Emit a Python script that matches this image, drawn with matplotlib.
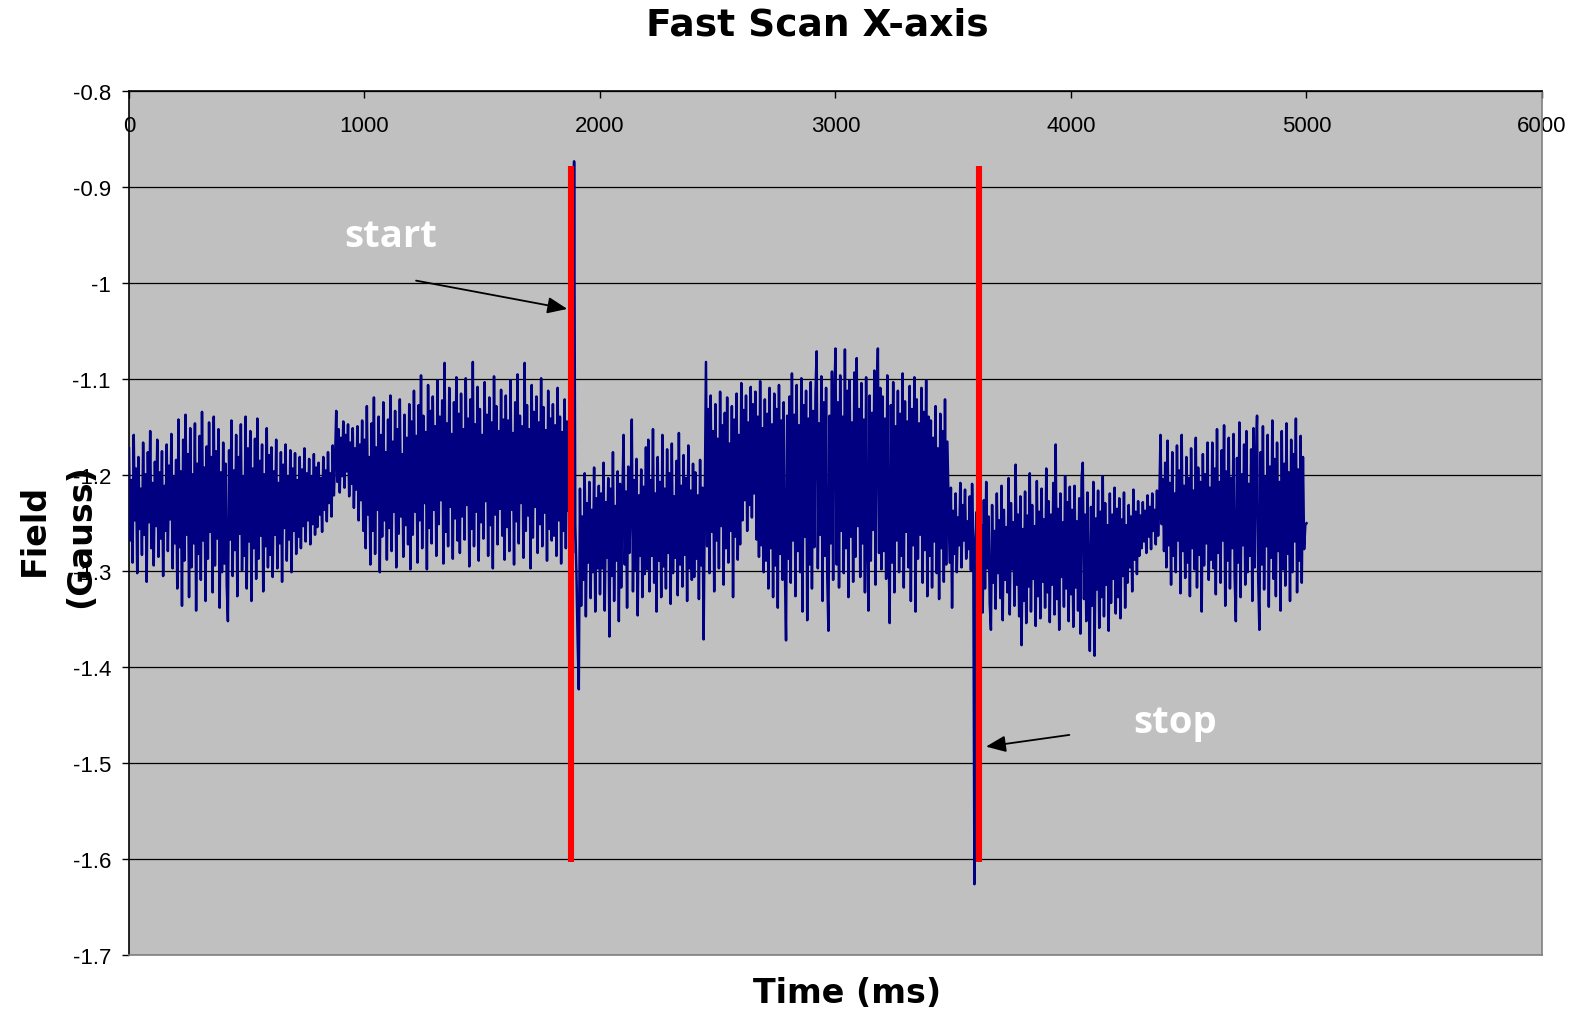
import matplotlib
matplotlib.use('Agg')
import matplotlib.pyplot as plt
from matplotlib.ticker import MultipleLocator, FuncFormatter
import numpy as np

# field samples (Gauss), one every 5 ms, 200 ms per row
sample_step = 5
field_rows = [
    [-1.172, -1.268, -1.205, -1.291, -1.158, -1.247, -1.193, -1.302, -1.181, -1.256, -1.214, -1.283, -1.166, -1.262, -1.199, -1.311, -1.176, -1.249, -1.154, -1.276,
     -1.208, -1.294, -1.186, -1.253, -1.163, -1.285, -1.197, -1.266, -1.175, -1.305, -1.211, -1.258, -1.168, -1.279, -1.190, -1.246, -1.157, -1.297, -1.202, -1.271],
    [-1.184, -1.318, -1.142, -1.275, -1.196, -1.336, -1.163, -1.289, -1.137, -1.262, -1.178, -1.327, -1.151, -1.296, -1.199, -1.271, -1.146, -1.341, -1.188, -1.282,
     -1.159, -1.309, -1.134, -1.268, -1.192, -1.331, -1.170, -1.287, -1.145, -1.259, -1.181, -1.322, -1.139, -1.294, -1.175, -1.266, -1.152, -1.338, -1.197, -1.301],
    [-1.166, -1.292, -1.188, -1.314, -1.352, -1.174, -1.267, -1.143, -1.305, -1.195, -1.278, -1.158, -1.326, -1.181, -1.261, -1.147, -1.299, -1.201, -1.284, -1.139,
     -1.318, -1.172, -1.269, -1.154, -1.331, -1.193, -1.276, -1.162, -1.308, -1.141, -1.287, -1.185, -1.263, -1.168, -1.321, -1.199, -1.274, -1.151, -1.296, -1.179],
    [-1.283, -1.171, -1.306, -1.196, -1.262, -1.163, -1.297, -1.208, -1.271, -1.176, -1.311, -1.189, -1.255, -1.168, -1.289, -1.202, -1.267, -1.174, -1.301, -1.193,
     -1.258, -1.177, -1.282, -1.205, -1.264, -1.181, -1.276, -1.194, -1.253, -1.172, -1.269, -1.198, -1.247, -1.183, -1.272, -1.201, -1.251, -1.178, -1.262, -1.192],
    [-1.254, -1.187, -1.241, -1.203, -1.259, -1.181, -1.236, -1.195, -1.248, -1.176, -1.229, -1.198, -1.243, -1.169, -1.221, -1.184, -1.133, -1.207, -1.152, -1.218,
     -1.161, -1.201, -1.144, -1.213, -1.158, -1.196, -1.147, -1.222, -1.166, -1.209, -1.151, -1.234, -1.172, -1.215, -1.149, -1.247, -1.168, -1.226, -1.143, -1.258],
    [-1.163, -1.276, -1.128, -1.241, -1.181, -1.293, -1.146, -1.258, -1.119, -1.282, -1.171, -1.236, -1.139, -1.301, -1.158, -1.264, -1.124, -1.247, -1.176, -1.288,
     -1.142, -1.255, -1.117, -1.279, -1.165, -1.238, -1.133, -1.296, -1.152, -1.261, -1.121, -1.243, -1.178, -1.285, -1.137, -1.252, -1.161, -1.272, -1.126, -1.298],
    [-1.144, -1.262, -1.112, -1.238, -1.159, -1.291, -1.127, -1.247, -1.096, -1.276, -1.138, -1.229, -1.155, -1.298, -1.106, -1.255, -1.133, -1.271, -1.118, -1.236,
     -1.149, -1.284, -1.101, -1.251, -1.139, -1.226, -1.122, -1.292, -1.083, -1.259, -1.146, -1.274, -1.109, -1.233, -1.157, -1.287, -1.124, -1.245, -1.098, -1.268],
    [-1.136, -1.281, -1.115, -1.243, -1.152, -1.267, -1.099, -1.231, -1.141, -1.295, -1.121, -1.256, -1.082, -1.274, -1.147, -1.238, -1.108, -1.289, -1.131, -1.249,
     -1.158, -1.266, -1.103, -1.227, -1.137, -1.284, -1.119, -1.252, -1.145, -1.297, -1.097, -1.241, -1.128, -1.272, -1.154, -1.235, -1.111, -1.263, -1.142, -1.288],
    [-1.117, -1.254, -1.143, -1.279, -1.101, -1.236, -1.156, -1.293, -1.124, -1.248, -1.095, -1.271, -1.138, -1.229, -1.149, -1.286, -1.083, -1.258, -1.127, -1.242,
     -1.152, -1.297, -1.106, -1.265, -1.134, -1.233, -1.118, -1.281, -1.145, -1.251, -1.099, -1.274, -1.129, -1.239, -1.153, -1.289, -1.112, -1.256, -1.141, -1.268],
    [-1.126, -1.263, -1.148, -1.284, -1.109, -1.247, -1.139, -1.292, -1.155, -1.258, -1.121, -1.276, -1.144, -1.237, -1.132, -1.308, -1.221, -1.281, -0.873, -1.252,
     -1.302, -1.371, -1.423, -1.214, -1.336, -1.243, -1.309, -1.198, -1.347, -1.229, -1.291, -1.207, -1.328, -1.236, -1.301, -1.192, -1.342, -1.224, -1.297, -1.211],
    [-1.324, -1.219, -1.297, -1.187, -1.341, -1.228, -1.286, -1.203, -1.368, -1.214, -1.305, -1.176, -1.331, -1.232, -1.289, -1.196, -1.352, -1.209, -1.317, -1.225,
     -1.158, -1.293, -1.217, -1.338, -1.191, -1.281, -1.229, -1.142, -1.321, -1.205, -1.299, -1.183, -1.346, -1.221, -1.284, -1.194, -1.327, -1.212, -1.303, -1.171],
    [-1.298, -1.163, -1.321, -1.205, -1.284, -1.152, -1.312, -1.219, -1.342, -1.181, -1.289, -1.207, -1.327, -1.158, -1.295, -1.214, -1.318, -1.173, -1.281, -1.198,
     -1.334, -1.167, -1.302, -1.222, -1.286, -1.185, -1.325, -1.156, -1.293, -1.211, -1.316, -1.179, -1.283, -1.203, -1.331, -1.169, -1.297, -1.216, -1.309, -1.188],
    [-1.306, -1.197, -1.287, -1.221, -1.329, -1.184, -1.294, -1.213, -1.371, -1.222, -1.082, -1.274, -1.131, -1.302, -1.117, -1.259, -1.154, -1.321, -1.126, -1.268,
     -1.162, -1.297, -1.113, -1.253, -1.148, -1.314, -1.135, -1.276, -1.119, -1.291, -1.167, -1.258, -1.128, -1.327, -1.142, -1.264, -1.115, -1.288, -1.158, -1.272],
    [-1.104, -1.247, -1.132, -1.226, -1.117, -1.258, -1.145, -1.231, -1.108, -1.244, -1.126, -1.219, -1.113, -1.267, -1.139, -1.285, -1.102, -1.273, -1.151, -1.301,
     -1.121, -1.289, -1.136, -1.318, -1.109, -1.276, -1.147, -1.327, -1.115, -1.294, -1.131, -1.338, -1.106, -1.282, -1.143, -1.309, -1.124, -1.296, -1.372, -1.138],
    [-1.287, -1.118, -1.312, -1.094, -1.268, -1.137, -1.326, -1.106, -1.279, -1.148, -1.301, -1.099, -1.342, -1.127, -1.264, -1.112, -1.351, -1.141, -1.293, -1.103,
     -1.318, -1.133, -1.275, -1.115, -1.071, -1.297, -1.146, -1.262, -1.097, -1.331, -1.124, -1.284, -1.109, -1.305, -1.362, -1.138, -1.271, -1.092, -1.309, -1.121],
    [-1.068, -1.293, -1.124, -1.317, -1.096, -1.258, -1.139, -1.302, -1.069, -1.276, -1.112, -1.327, -1.101, -1.264, -1.145, -1.311, -1.093, -1.285, -1.078, -1.253,
     -1.131, -1.306, -1.104, -1.271, -1.142, -1.322, -1.098, -1.266, -1.341, -1.117, -1.289, -1.135, -1.257, -1.091, -1.314, -1.128, -1.068, -1.281, -1.109, -1.298],
    [-1.118, -1.279, -1.141, -1.308, -1.096, -1.264, -1.354, -1.127, -1.291, -1.103, -1.322, -1.149, -1.268, -1.112, -1.301, -1.136, -1.284, -1.094, -1.317, -1.123,
     -1.259, -1.144, -1.296, -1.107, -1.331, -1.131, -1.273, -1.098, -1.342, -1.121, -1.287, -1.146, -1.262, -1.109, -1.312, -1.134, -1.278, -1.101, -1.326, -1.139],
    [-1.284, -1.143, -1.317, -1.161, -1.269, -1.128, -1.302, -1.172, -1.329, -1.136, -1.276, -1.154, -1.311, -1.121, -1.293, -1.165, -1.226, -1.291, -1.213, -1.338,
     -1.237, -1.282, -1.219, -1.301, -1.244, -1.273, -1.208, -1.296, -1.231, -1.268, -1.215, -1.287, -1.248, -1.277, -1.222, -1.299, -1.209, -1.265, -1.626, -1.271],
    [-1.238, -1.327, -1.214, -1.306, -1.252, -1.343, -1.226, -1.318, -1.207, -1.297, -1.243, -1.334, -1.361, -1.231, -1.312, -1.258, -1.339, -1.219, -1.302, -1.247,
     -1.328, -1.211, -1.351, -1.236, -1.309, -1.254, -1.322, -1.203, -1.345, -1.229, -1.298, -1.249, -1.336, -1.189, -1.314, -1.241, -1.347, -1.222, -1.377, -1.256],
    [-1.331, -1.217, -1.354, -1.242, -1.316, -1.198, -1.342, -1.231, -1.308, -1.253, -1.357, -1.206, -1.326, -1.238, -1.349, -1.214, -1.311, -1.246, -1.338, -1.193,
     -1.322, -1.227, -1.353, -1.241, -1.314, -1.208, -1.345, -1.168, -1.329, -1.235, -1.361, -1.219, -1.306, -1.249, -1.337, -1.201, -1.318, -1.228, -1.352, -1.212],
    [-1.324, -1.236, -1.358, -1.211, -1.317, -1.248, -1.341, -1.224, -1.365, -1.203, -1.187, -1.329, -1.241, -1.352, -1.218, -1.311, -1.383, -1.233, -1.336, -1.207,
     -1.388, -1.245, -1.319, -1.216, -1.359, -1.238, -1.327, -1.201, -1.347, -1.229, -1.314, -1.252, -1.362, -1.219, -1.333, -1.241, -1.308, -1.213, -1.344, -1.235],
    [-1.327, -1.224, -1.349, -1.246, -1.305, -1.218, -1.338, -1.252, -1.312, -1.231, -1.296, -1.243, -1.321, -1.215, -1.288, -1.238, -1.303, -1.227, -1.284, -1.242,
     -1.276, -1.228, -1.269, -1.237, -1.281, -1.221, -1.264, -1.233, -1.277, -1.219, -1.258, -1.236, -1.272, -1.216, -1.263, -1.229, -1.158, -1.251, -1.204, -1.279],
    [-1.187, -1.296, -1.164, -1.273, -1.208, -1.314, -1.176, -1.284, -1.219, -1.301, -1.169, -1.268, -1.195, -1.323, -1.158, -1.279, -1.211, -1.307, -1.181, -1.291,
     -1.203, -1.326, -1.172, -1.276, -1.216, -1.298, -1.161, -1.317, -1.192, -1.283, -1.207, -1.342, -1.178, -1.294, -1.199, -1.271, -1.166, -1.309, -1.213, -1.288],
    [-1.166, -1.297, -1.193, -1.324, -1.152, -1.281, -1.207, -1.312, -1.174, -1.268, -1.148, -1.336, -1.196, -1.289, -1.161, -1.318, -1.203, -1.276, -1.157, -1.305,
     -1.352, -1.182, -1.291, -1.145, -1.327, -1.199, -1.273, -1.168, -1.314, -1.154, -1.301, -1.209, -1.284, -1.173, -1.331, -1.151, -1.296, -1.187, -1.138, -1.308],
    [-1.361, -1.176, -1.293, -1.149, -1.319, -1.202, -1.274, -1.158, -1.337, -1.191, -1.286, -1.143, -1.308, -1.183, -1.326, -1.166, -1.279, -1.207, -1.341, -1.154,
     -1.298, -1.188, -1.315, -1.146, -1.282, -1.197, -1.331, -1.163, -1.301, -1.178, -1.269, -1.141, -1.322, -1.194, -1.289, -1.159, -1.312, -1.181, -1.277, -1.252],
    [-1.25],
]

# start / stop markers (ms) and the field span they cover
marker_times = [1875, 3608]
marker_top = -0.8775
marker_bottom = -1.603

field = np.concatenate([np.array(r) for r in field_rows])
time_ms = np.arange(len(field)) * sample_step

fig = plt.figure(figsize=(15.77, 10.20), dpi=100)
ax = fig.add_axes([0.0818, 0.0625, 0.8960, 0.8471])
ax.set_facecolor('#C0C0C0')

ax.plot(time_ms, field, color='#000080', lw=1.8, zorder=3)
ax.vlines(marker_times, marker_bottom, marker_top, color='#FF0000', lw=4.4, zorder=4)

ax.set_xlim(0, 6000)
ax.set_ylim(-1.7, -0.8)

ax.yaxis.set_major_locator(MultipleLocator(0.1))
ax.yaxis.set_major_formatter(FuncFormatter(lambda v, p: '%g' % round(v, 1)))
ax.xaxis.set_major_locator(MultipleLocator(1000))
ax.xaxis.tick_top()
ax.tick_params(axis='x', direction='in', length=5, width=1, pad=-32.5,
               labelsize=16, colors='black')
ax.tick_params(axis='y', direction='out', length=5, width=1, pad=8,
               labelsize=16, colors='black')
for lab in ax.get_xticklabels() + ax.get_yticklabels():
    lab.set_fontfamily('Liberation Sans')

ax.grid(axis='y', color='black', lw=0.9, zorder=1)
ax.set_axisbelow(True)

ax.spines['left'].set_color('black')
ax.spines['top'].set_color('black')
ax.spines['right'].set_color('#808080')
ax.spines['bottom'].set_color('#808080')
for s in ax.spines.values():
    s.set_linewidth(1.2)

# annotations
ax.text(1112, -0.961, 'start', color='white', fontsize=27.5, fontweight='bold',
        family='Open Sans', ha='center', va='baseline', zorder=6)
ax.text(4442, -1.4677, 'stop', color='white', fontsize=27.5, fontweight='bold',
        family='Open Sans', ha='center', va='baseline', zorder=6)
arrow = dict(arrowstyle='-|>,head_length=0.6,head_width=0.25', color='black',
             lw=1.3, mutation_scale=20, shrinkA=0, shrinkB=0)
ax.annotate('', xy=(1861, -1.0268), xytext=(1219, -0.9973), arrowprops=arrow, zorder=6)
ax.annotate('', xy=(3639, -1.4827), xytext=(3993, -1.4705), arrowprops=arrow, zorder=6)

fig.text(0.518, 0.965, 'Fast Scan X-axis', fontsize=27, fontweight='bold',
         ha='center', va='baseline')
fig.text(0.537, 0.0164, 'Time (ms)', fontsize=24, fontweight='bold',
         ha='center', va='baseline')
fig.text(0.0279, 0.4804, 'Field', fontsize=24, fontweight='bold', rotation=90,
         rotation_mode='anchor', ha='center', va='baseline')
fig.text(0.0571, 0.4747, '(Gauss)', fontsize=24, fontweight='bold', rotation=90,
         rotation_mode='anchor', ha='center', va='baseline')

fig.savefig('out.png', dpi=100)
